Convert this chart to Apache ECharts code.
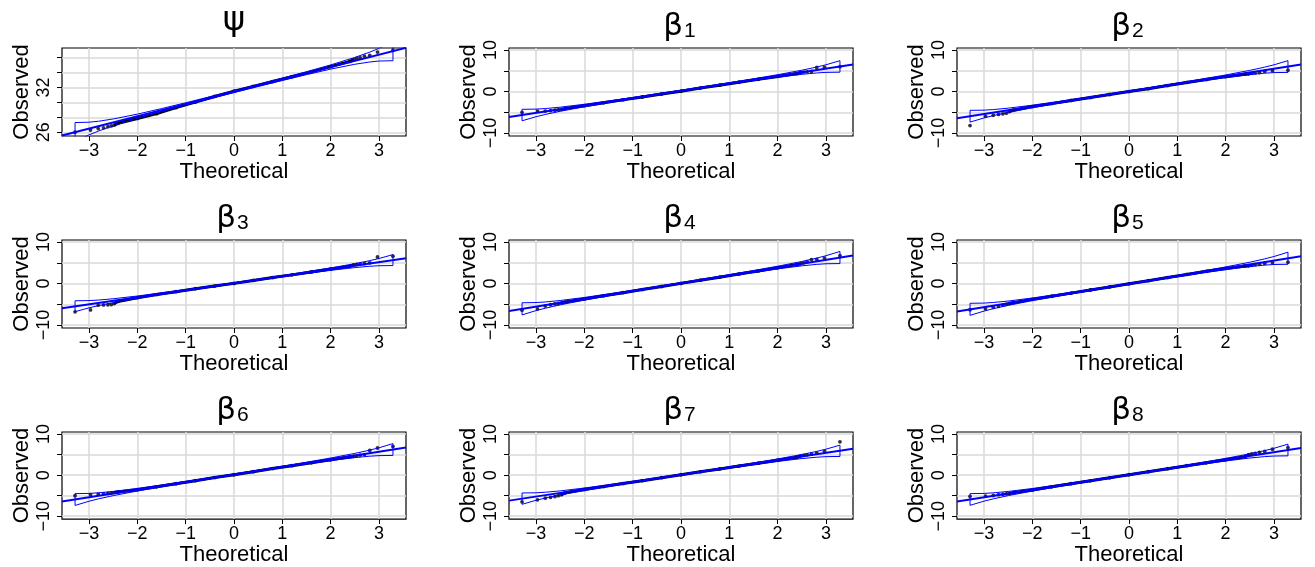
<!DOCTYPE html>
<html><head><meta charset="utf-8">
<script src="https://cdn.jsdelivr.net/npm/echarts@6/dist/echarts.min.js"></script>
<style>html,body{margin:0;padding:0;background:#fff}#c{width:1315px;height:567px}</style>
</head><body><div id="c"></div>
<script>
// ---------- DATA ----------
const greek = ['ψ','β','β','β','β','β','β','β','β'];
const subs  = ['','1','2','3','4','5','6','7','8'];
// theoretical normal quantiles (shared)
const theoX = [-3.29,-2.97,-2.81,-2.70,-2.61,-2.54,-2.48,-2.4,-2.0,-1.6,-1.2,-0.8,-0.4,0,0.4,0.8,1.2,1.6,2.0,2.4,2.48,2.54,2.61,2.70,2.81,2.97,3.29];
const obsPsi = [26.0,26.3,26.5,26.6,26.75,26.85,26.95,27.2,27.85,28.5,29.3,30.05,30.8,31.5,32.15,32.8,33.45,34.1,34.8,35.5,35.75,35.9,36.0,36.2,36.3,36.75,37.0];
const obsB1 = [-5.0,-4.7,-4.7,-4.6,-4.5,-4.4,-4.3,-4.1,-3.4,-2.7,-2.0,-1.3,-0.6,0.1,0.85,1.55,2.25,2.95,3.65,4.35,4.6,4.7,4.75,4.85,5.8,5.85,6.0];
const obsB2 = [-8.2,-5.95,-5.7,-5.5,-5.35,-5.2,-4.8,-4.5,-3.6,-2.9,-2.15,-1.45,-0.7,0.0,0.7,1.45,2.2,2.9,3.6,4.2,4.3,4.4,4.5,4.6,4.85,5.0,5.15];
const obsB3 = [-6.8,-6.35,-5.2,-5.15,-5.1,-5.05,-4.8,-4.3,-3.4,-2.65,-1.95,-1.25,-0.6,0.05,0.75,1.45,2.1,2.8,3.5,4.2,4.5,4.6,4.7,4.8,5.0,6.4,6.6];
const obsB4 = [-6.4,-6.1,-5.4,-5.1,-4.9,-4.8,-4.65,-4.45,-3.7,-2.95,-2.2,-1.45,-0.7,0.05,0.8,1.55,2.3,3.05,3.8,4.6,4.8,5.0,5.3,5.75,5.85,6.15,6.7];
const obsB5 = [-6.3,-6.1,-5.7,-5.5,-5.2,-5.0,-4.8,-4.6,-3.8,-3.05,-2.3,-1.55,-0.8,-0.05,0.7,1.45,2.2,2.95,3.65,4.25,4.3,4.4,4.55,4.65,4.85,5.0,5.15];
const obsB6 = [-5.0,-4.75,-4.6,-4.55,-4.45,-4.35,-4.25,-4.1,-3.55,-2.85,-2.1,-1.35,-0.6,0.1,0.85,1.6,2.3,3.0,3.75,4.45,4.6,4.7,4.85,5.0,6.0,6.6,7.0];
const obsB7 = [-6.5,-6.0,-5.6,-5.4,-5.2,-5.0,-4.8,-4.3,-3.5,-2.78,-2.05,-1.35,-0.62,0.1,0.8,1.5,2.2,2.92,3.62,4.35,4.7,4.8,4.95,5.1,5.4,5.8,8.1];
const obsB8 = [-5.15,-5.1,-4.95,-4.75,-4.65,-4.55,-4.45,-4.3,-3.6,-2.85,-2.1,-1.38,-0.65,0.1,0.83,1.55,2.3,3.0,3.75,4.5,5.0,5.15,5.3,5.55,5.75,6.3,6.7];
const observed = [obsPsi,obsB1,obsB2,obsB3,obsB4,obsB5,obsB6,obsB7,obsB8];
// reference line (intercept, slope)
const lineA = [31.45,0.2,0.05,0.1,0.1,-0.05,0.15,0.1,0.1];
const lineB = [1.65,1.78,1.82,1.69,1.88,1.87,1.85,1.77,1.83];
// confidence envelope half-width (in theoretical units) at envelope x positions
const envX    = [-3.29,-3.0,-2.8,-2.5,-2.0,-1.5,-1.0,-0.5,0,0.5,1.0,1.5,2.0,2.5,2.8,3.0,3.29];
const envHalf = [0.778,0.514,0.396,0.278,0.171,0.120,0.094,0.081,0.078,0.081,0.094,0.120,0.171,0.278,0.396,0.514,0.778];
// ticks
const xTicks = [-3,-2,-1,0,1,2,3];
const psiTicks = [26,28,30,32,34,36];
const psiLabels = [26,32];
const betaTicks = [-10,-5,0,5,10];
const betaLabels = [-10,0,10];
const psiRange = [25.5,37.3];
const betaRange = [-10.7,10.5];
const xRange = [-3.56,3.56];

// ---------- LAYOUT ----------
const colLeft = [62,509,957];
const rowTop = [48,240,432];
const W = 344, H = 88;
const FONT = '"Liberation Sans", Arial, Helvetica, sans-serif';
const GFONT = '"DejaVu Sans", "Liberation Sans", sans-serif';

const chart = echarts.init(document.getElementById('c'), null, {renderer:'canvas'});
const minus = v => String(v).replace('-', '\u2212');
const grids=[], xAxes=[], yAxes=[], series=[], graphics=[];

for (let i=0;i<9;i++){
  const r=Math.floor(i/3), c=i%3;
  const left=colLeft[c], top=rowTop[r];
  const isPsi = i===0;
  grids.push({left:left, top:top, width:W, height:H, show:true, borderColor:'#000', borderWidth:1.2, backgroundColor:'#fff'});
  xAxes.push({gridIndex:i, type:'value', min:xRange[0], max:xRange[1], position:'bottom',
    axisLine:{show:false, onZero:false},
    axisTick:{show:true, customValues:xTicks, length:5, inside:false, lineStyle:{color:'#000', width:1}},
    axisLabel:{customValues:xTicks, formatter:minus, fontSize:18, color:'#000', fontFamily:FONT, margin:6},
    splitLine:{show:true, lineStyle:{color:'#d9d9d9', width:1.5}},
    name:'Theoretical', nameLocation:'middle', nameGap:21,
    nameTextStyle:{fontSize:22, color:'#000', fontFamily:FONT, verticalAlign:'top'}});
  const yr = isPsi ? psiRange : betaRange;
  yAxes.push({gridIndex:i, type:'value', min:yr[0], max:yr[1], position:'left',
    axisLine:{show:false, onZero:false},
    axisTick:{show:true, customValues: isPsi?psiTicks:betaTicks, length:5, lineStyle:{color:'#000', width:1}},
    axisLabel:{customValues: isPsi?psiLabels:betaLabels, formatter:minus, rotate:90, fontSize:18, color:'#000', fontFamily:FONT, margin:9},
    splitLine:{show:true, lineStyle:{color:'#d9d9d9', width:1.5}},
    name:'Observed', nameLocation:'middle', nameGap:29, nameRotate:90,
    nameTextStyle:{fontSize:22, color:'#000', fontFamily:FONT}});

  const obs = observed[i];
  const pts = theoX.map((x,k)=>[x, obs[k]]);
  const mid = pts.filter(p=>Math.abs(p[0])<=2.49);
  const a = lineA[i], b = lineB[i];
  const upper = envX.map((x,k)=>[x, a + b*(x + envHalf[k])]);
  const lower = envX.map((x,k)=>[x, a + b*(x - envHalf[k])]).reverse();
  const env = upper.concat(lower, [upper[0]]);
  series.push({type:'line', xAxisIndex:i, yAxisIndex:i, data:mid, showSymbol:false, symbol:'none',
    lineStyle:{color:'#000', width:3}, silent:true, animation:false, z:2});
  series.push({type:'scatter', xAxisIndex:i, yAxisIndex:i, data:pts, symbol:'circle', symbolSize:3.8,
    itemStyle:{color:'#000'}, silent:true, animation:false, z:3});
  series.push({type:'line', xAxisIndex:i, yAxisIndex:i, data:env, showSymbol:false, symbol:'none',
    lineStyle:{color:'#0000ff', width:1}, silent:true, animation:false, z:4});
  series.push({type:'line', xAxisIndex:i, yAxisIndex:i,
    data:[[xRange[0], a + b*xRange[0]],[xRange[1], a + b*xRange[1]]],
    showSymbol:false, symbol:'none', lineStyle:{color:'#0000ff', width:2}, silent:true, animation:false, clip:true, z:5});

  const cx = left + W/2;
  if (isPsi){
    graphics.push({type:'text', x:cx, y:top-27, style:{text:greek[i], fontSize:34, fontFamily:GFONT, fill:'#000', align:'center', verticalAlign:'middle'}});
  } else {
    graphics.push({type:'text', x:cx+2, y:top-21, style:{text:greek[i], fontSize:31, fontFamily:GFONT, fill:'#000', align:'right', verticalAlign:'middle'}});
    graphics.push({type:'text', x:cx+3, y:top-17, style:{text:subs[i], fontSize:21, fontFamily:FONT, fill:'#000', align:'left', verticalAlign:'middle'}});
  }
}

chart.setOption({animation:false, backgroundColor:'#fff', grid:grids, xAxis:xAxes, yAxis:yAxes, series:series, graphic:graphics});
</script>
</body></html>
